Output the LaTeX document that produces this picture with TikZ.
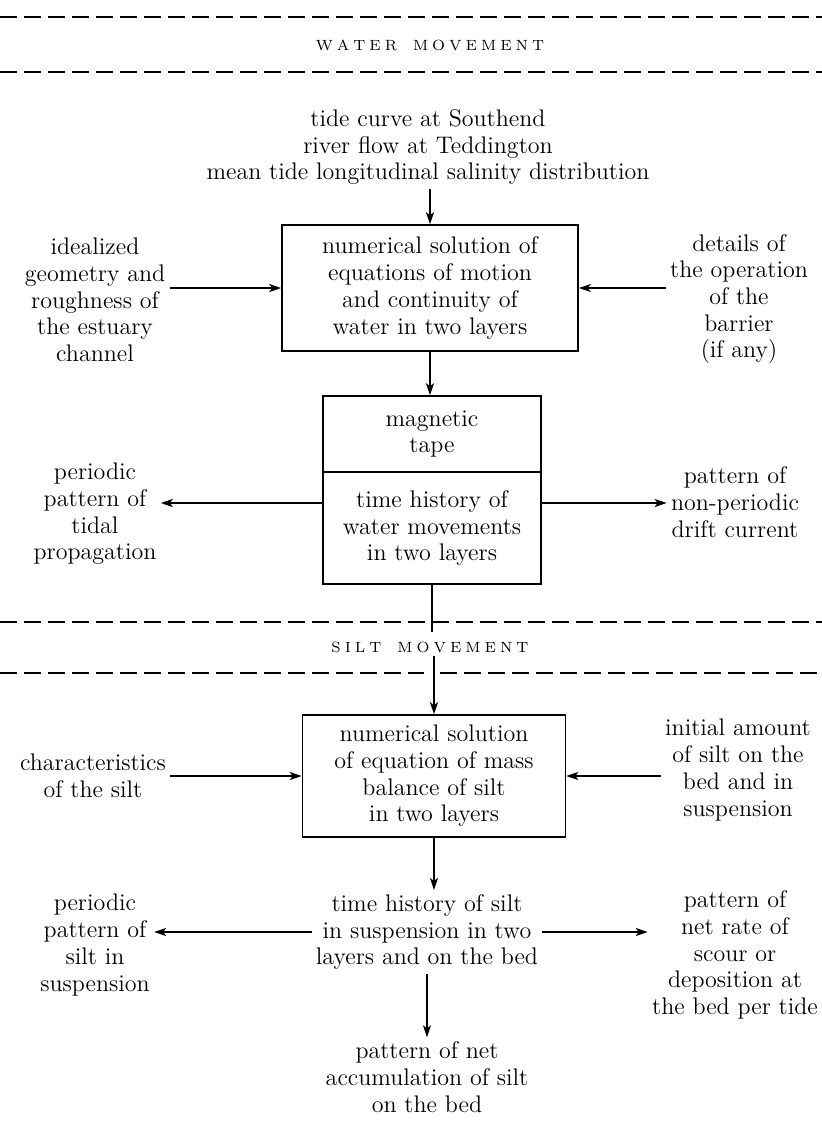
\documentclass[tikz,border=0pt]{standalone}
\usepackage{fontspec}
\usetikzlibrary{arrows.meta,positioning}

\newcommand{\diagfont}{\fontsize{12}{13.35}\selectfont}
\newcommand{\bandfont}{\fontsize{7.4}{9}\selectfont}
\newcommand{\ls}{\kern2pt}

\begin{document}
\begin{tikzpicture}[x=0.5pt, y=-0.5pt,
        >={Stealth[length=6pt,width=4pt,inset=1.5pt]},
        block/.style={rectangle, draw, line width=0.8pt, align=center, font=\diagfont, inner sep=2pt},
        note/.style={align=center, font=\diagfont, inner sep=2pt},
        band/.style={font=\bandfont, inner sep=1.5pt},
        divider/.style={line width=0.8pt, dash pattern=on 8.5pt off 3.5pt},
        link/.style={->, line width=0.8pt}]

    \useasboundingbox (0,0) rectangle (822,1132);

    % water movement
    \node[band] (water) at (430,45) {W\ls A\ls T\ls E\ls R\hspace{8pt}M\ls O\ls V\ls E\ls M\ls E\ls N\ls T};
    \node[note] (inputs) at (428,147) {tide curve at Southend\\river flow at Teddington\\mean tide longitudinal salinity distribution};
    \node[block, minimum width=148pt, minimum height=63pt] (motion) at (430,288) {numerical solution of\\equations of motion\\and continuity of\\water in two layers};
    \node[note] (geometry) at (95,300) {idealized\\geometry and\\roughness of\\the estuary\\channel};
    \node[note] (barrier) at (739,299) {details of\\the operation\\of the\\barrier\\(if any)};
    \node[block, minimum width=109pt, minimum height=38pt] (tape) at (432,434) {magnetic\\tape};
    \node[block, minimum width=109pt, minimum height=56pt] (history) at (432,528) {time history of\\water movements\\in two layers};
    \node[note] (tidal) at (95,514) {periodic\\pattern of\\tidal\\propagation};
    \node[note] (drift) at (735,502) {pattern of\\non-periodic\\drift current};

    % silt movement
    \node[band] (silt) at (430,647) {S\ls I\ls L\ls T\hspace{8pt}M\ls O\ls V\ls E\ls M\ls E\ls N\ls T};
    \coordinate (cut) at (432,632);
    \node[block, minimum width=131.5pt, minimum height=61pt] (balance) at (434,776) {numerical solution\\of equation of mass\\balance of silt\\in two layers};
    \node[note] (character) at (93,776) {characteristics\\of the silt};
    \node[note] (initial) at (738,770) {initial amount\\of silt on the\\bed and in\\suspension};
    \node[note] (silthist) at (427,932) {time history of silt\\in suspension in two\\layers and on the bed};
    \node[note] (suspended) at (95,945) {periodic\\pattern of\\silt in\\suspension};
    \node[note] (scour) at (735,955) {pattern of\\net rate of\\scour or\\deposition at\\the bed per tide};
    \node[note] (accum) at (427,1077) {pattern of net\\accumulation of silt\\on the bed};

    \draw[divider] (0,17) -- (822,17);
    \draw[divider] (0,72) -- (822,72);
    \draw[divider] (0,622) -- (822,622);
    \draw[divider] (0,673) -- (424,673);
    \draw[divider] (440,673) -- (822,673);

    \draw[link] (inputs.south -| motion.north) -- (motion.north);
    \draw[link] (geometry.east |- motion.west) -- (motion.west);
    \draw[link] (barrier.west |- motion.east) -- (motion.east);
    \draw[link] (motion.south) -- (motion.south |- tape.north);
    \draw[link] ([yshift=12.5pt]history.west) -- ([yshift=12.5pt]tidal.east |- history.west);
    \draw[link] ([yshift=12.5pt]history.east) -- ([yshift=12.5pt]drift.west |- history.east);
    \draw[line width=0.8pt] (history.south) -- (history.south |- cut);
    \draw[link] (balance.north |- silt.south) -- (balance.north);
    \draw[link] (character.east |- balance.west) -- (balance.west);
    \draw[link] (initial.west |- balance.east) -- (balance.east);
    \draw[link] (balance.south) -- (balance.south |- silthist.north);
    \draw[link] (silthist.west) -- (suspended.east |- silthist.west);
    \draw[link] (silthist.east) -- (scour.west |- silthist.east);
    \draw[link] (silthist.south) -- (silthist.south |- accum.north);
\end{tikzpicture}
\end{document}
